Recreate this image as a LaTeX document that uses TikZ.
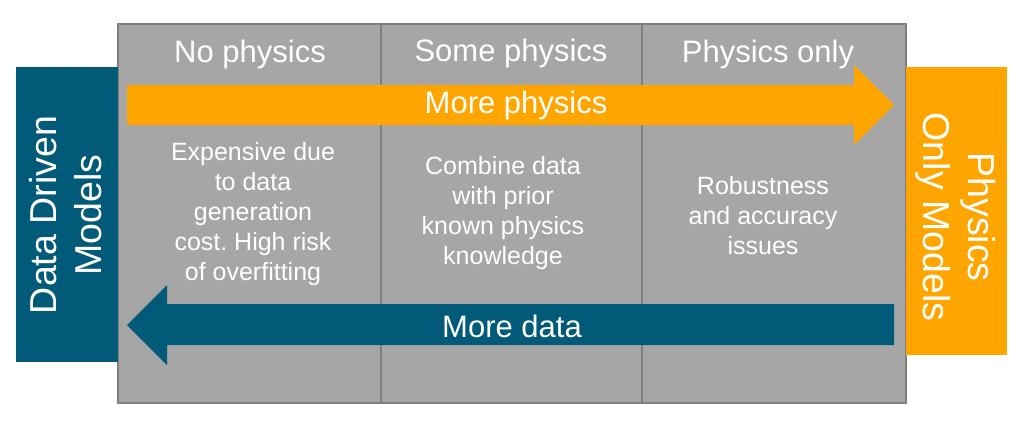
\documentclass[tikz,border=0pt]{standalone}
\usepackage{fontspec}
\setmainfont{Liberation Sans}
\frenchspacing
\definecolor{dblue}{RGB}{0,90,120}
\definecolor{dorange}{RGB}{255,165,0}
\definecolor{pgray}{RGB}{166,166,166}
\definecolor{bgray}{RGB}{127,127,127}
\begin{document}
\begin{tikzpicture}[x=1pt,y=-1pt,
  head/.style={text=white,font=\fontsize{31}{36}\selectfont},
  body/.style={text=white,align=center,font=\fontsize{25}{30}\selectfont},
  side/.style={text=white,align=center,font=\fontsize{37.5}{45}\selectfont}]
\useasboundingbox (0,0) rectangle (1023,426);
% main gray panel
\draw[bgray,line width=1.5pt,fill=pgray] (118,24) rectangle (906,403);
\draw[bgray,line width=1.5pt] (381,24) -- (381,403);
\draw[bgray,line width=1.5pt] (642,24) -- (642,403);
% side boxes
\fill[dblue] (16,67) rectangle (118,362);
\fill[dorange] (906,67) rectangle (1007,355);
\node[side,rotate=90] (ddm) at (66,215) {Data Driven\\Models};
\node[side,rotate=-90] (pom) at (956,217) {Physics\\Only Models};
% headings
\node[head] (h1) at (250,54) {No physics};
\node[head] (h2) at (511,53) {Some physics};
\node[head] (h3) at (768,54) {Physics only};
% orange arrow
\fill[dorange] (127,85) -- (854,85) -- (854,65) -- (894,105) -- (854,145) -- (854,125) -- (127,125) -- cycle;
\node[head] (mp) at (516,105) {More physics};
% blue arrow
\fill[dblue] (894,304) -- (167,304) -- (167,285) -- (127,325) -- (167,365) -- (167,345) -- (894,345) -- cycle;
\node[head] (md) at (512,326) {More data};
% body texts
\node[body] (b1) at (253,214) {Expensive due\\to data\\generation\\cost. High risk\\of overfitting};
\node[body] (b2) at (503,213) {Combine data\\with prior\\known physics\\knowledge};
\node[body] (b3) at (763,216) {Robustness\\and accuracy\\issues};
\end{tikzpicture}
\end{document}
